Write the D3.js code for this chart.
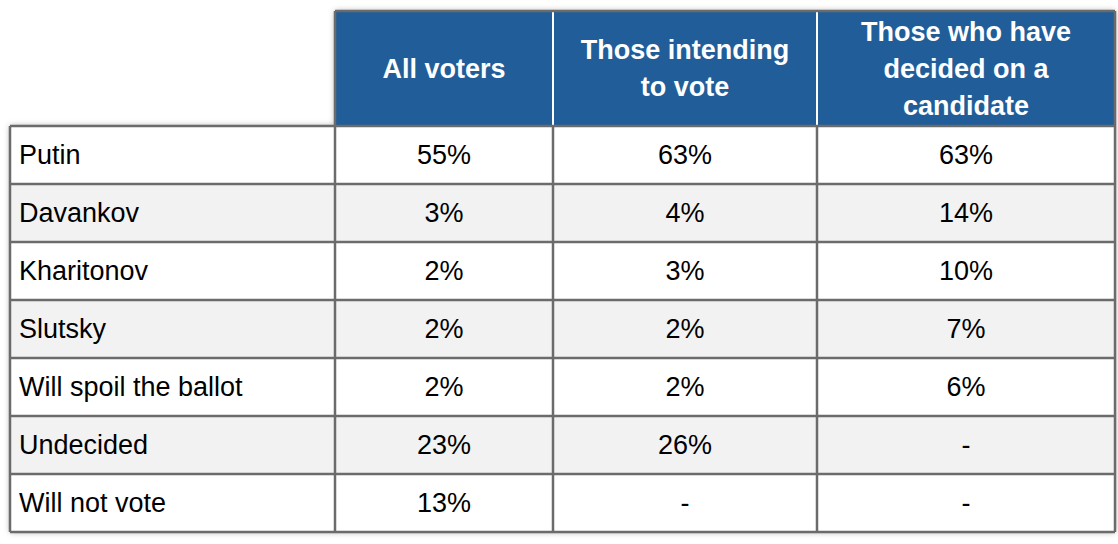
<!DOCTYPE html><html><head><meta charset="utf-8">
<script src="https://cdn.jsdelivr.net/npm/d3@7"></script>
<style>body{margin:0;background:#fff}</style></head><body>
<svg id="c" width="1118" height="544"></svg>
<script>
const columns = [["All voters"], ["Those intending", "to vote"], ["Those who have", "decided on a", "candidate"]];
const categories = ["Putin","Davankov","Kharitonov","Slutsky","Will spoil the ballot","Undecided","Will not vote"];
const allVoters = ["55%","3%","2%","2%","2%","23%","13%"];
const intending = ["63%","4%","3%","2%","2%","26%","-"];
const decided = ["63%","14%","10%","7%","6%","-","-"];
const series = [allVoters, intending, decided];

(function(){
const svg = d3.select("#c");
const font = "Liberation Sans, Arial, sans-serif";
const colEdges = [10, 335, 553, 817, 1115];
const topY = 11, headBottom = 126, bottom = 532;
const y = d3.scaleBand().domain(categories).range([headBottom, bottom]);
const defs = svg.append("defs");
const f = defs.append("filter").attr("id","sh").attr("x","-5%").attr("y","-5%").attr("width","110%").attr("height","110%");
f.append("feDropShadow").attr("dx",0).attr("dy",0).attr("stdDeviation",3).attr("flood-color","#000").attr("flood-opacity",0.35);

svg.append("path").attr("d",`M${colEdges[1]},${topY}H${colEdges[4]}V${bottom}H${colEdges[0]}V${headBottom}H${colEdges[1]}Z`)
  .attr("fill","#fff").attr("filter","url(#sh)");
svg.append("rect").attr("x",colEdges[1]).attr("y",topY).attr("width",colEdges[4]-colEdges[1]).attr("height",headBottom-topY).attr("fill","#215E99");
columns.forEach((lines,i)=>{
  const cx=(colEdges[i+1]+colEdges[i+2])/2, cy=(topY+headBottom)/2;
  const lh=37;
  lines.forEach((l,j)=>svg.append("text").attr("x",cx).attr("y",cy+(j-(lines.length-1)/2)*lh).attr("dy","0.35em")
    .attr("text-anchor","middle").attr("font-family",font).attr("font-weight","bold").attr("font-size",27).attr("fill","#fff").text(l));
  if(i>0) svg.append("line").attr("x1",colEdges[i+1]).attr("x2",colEdges[i+1]).attr("y1",topY).attr("y2",headBottom).attr("stroke","#fff").attr("stroke-width",2);
});
categories.forEach((c,r)=>{
  svg.append("rect").attr("x",colEdges[0]).attr("y",y(c)).attr("width",colEdges[4]-colEdges[0]).attr("height",y.bandwidth()).attr("fill",r%2?"#f2f2f2":"#fff");
  svg.append("text").attr("x",colEdges[0]+9).attr("y",y(c)+y.bandwidth()/2).attr("dy","0.35em").attr("font-family",font).attr("font-size",27).attr("fill","#000").text(c);
  series.forEach((s,i)=>svg.append("text").attr("x",(colEdges[i+1]+colEdges[i+2])/2).attr("y",y(c)+y.bandwidth()/2).attr("dy","0.35em")
    .attr("text-anchor","middle").attr("font-family",font).attr("font-size",27).attr("fill","#000").text(s[r]));
});
const g=svg.append("g").attr("stroke","#6b6b6b").attr("stroke-width",2.5);
categories.forEach(c=>g.append("line").attr("x1",colEdges[0]).attr("x2",colEdges[4]).attr("y1",y(c)).attr("y2",y(c)));
g.append("line").attr("x1",colEdges[0]).attr("x2",colEdges[4]).attr("y1",bottom).attr("y2",bottom);
colEdges.forEach((x,i)=>g.append("line").attr("x1",x).attr("x2",x).attr("y1",(i===1||i===4)?topY:headBottom).attr("y2",bottom));
g.append("line").attr("x1",colEdges[1]).attr("x2",colEdges[4]).attr("y1",topY).attr("y2",topY);
})();
</script></body></html>
